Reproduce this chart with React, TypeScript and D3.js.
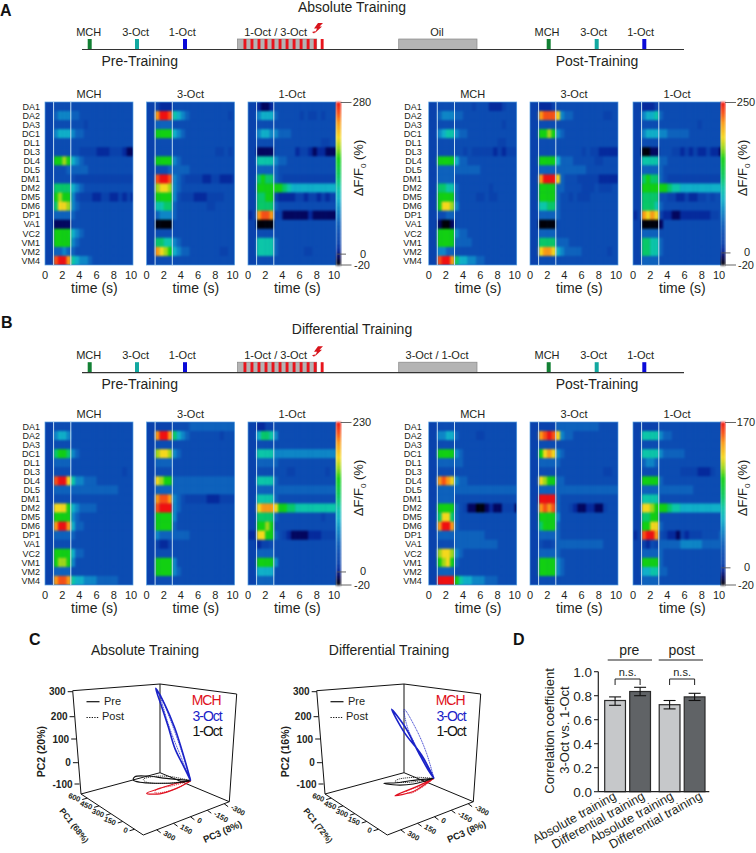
import React from 'react';
import * as d3 from 'd3';

const FONT = '"Liberation Sans", Arial, sans-serif';
const INK = '#231f20';

// response levels per glomerulus, one char per 0.5 s bin: before odor, odor, after odor
// char is an index into colorStops (0 = -20%, f = max)
const glomeruli = ['DA1', 'DA2', 'DA3', 'DC1', 'DL1', 'DL3', 'DL4', 'DL5', 'DM1', 'DM2', 'DM5', 'DM6', 'DP1', 'VA1', 'VC2', 'VM1', 'VM2', 'VM4'];

const absPreMch = [
  '33 4444 444444444444444', '33 5666 554444444444444', '33 4444 444344444444444', '33 6777 655444444444444',
  '33 4444 444444444444444', '33 4444 443333222333211', '33 aaba 765444444444444', '33 4445 555544444444444',
  '33 4444 433333333333333', '33 9999 765444444444444', '33 abaa 643332233223232', '33 9ccb 654444444444444',
  '33 5555 544444444444444', '33 1111 444444444444444', '33 aaaa 765444444444444', '33 aaaa 654444444444444',
  '33 5565 544444444444444', '33 effd 876654444444444',
];
const absPre3Oct = [
  '33 3222 444444444444444', '33 dffe 876544444444434', '33 5555 444444444444444', '33 aaaa 765444444444444',
  '33 4444 444444444444444', '33 4444 444444444433434', '33 aaaa 654444444444444', '33 4445 555544444444444',
  '33 effe 654333322332223', '33 bccb 654444444444444', '33 aaaa 643332223333444', '33 8899 544444443344444',
  '33 5666 544444444444444', '33 0000 444444444444444', '33 4444 444444444444444', '33 9988 654444444444444',
  '33 dcba 765544444443344', '33 4444 444444444444444',
];
const absPre1Oct = [
  '33 2112 444444444444444', '33 6777 544444343343444', '33 4444 444444444444444', '33 6776 655544444444444',
  '33 4444 444444444443344', '33 1111 444442332122111', '33 8888 655444444444444', '33 5555 544444444444444',
  '33 9a99 543333333333333', '33 aaaa aa9877777777777', '33 99aa 322223323323233', '33 9999 544444444444444',
  '23 deed 331111112111111', '33 0000 444444444444444', '33 4444 444444444444444', '33 8888 544444444444444',
  '33 8888 544444433444444', '33 4444 444444444444444',
];
const absPostMch = [
  '33 4444 444434442223444', '33 5666 554444444444444', '33 4444 444444444443444', '33 6788 655444444444444',
  '33 4444 444444444433444', '33 4444 443433333232333', '33 aaaa 755444444444444', '33 5555 555555444444444',
  '33 5555 444444444444444', '33 9988 544444443444444', '33 aaaa 544443343344444', '33 accb 644444444444444',
  '33 4455 444444444444444', '33 1001 444444444444444', '33 aaaa 655444444444444', '33 aaaa 555544444444444',
  '33 6655 444444444444444', '33 effd 977665544444444',
];
const absPost3Oct = [
  '33 2223 444444444444444', '33 deee c65544444443344', '33 4444 444444444444444', '33 aaba 654444444444444',
  '33 4444 444444444444444', '33 4444 444444343322222', '33 aaaa 755544444334444', '33 5555 555555544444444',
  '33 dfff c54443333322222', '33 aaaa 554444333433344', '33 aaaa 544343334444444', '33 8899 544444444444444',
  '33 5555 544444444444444', '33 0000 444444444444444', '33 5555 444444444444444', '33 9999 555444444444444',
  '33 cddc 765555444444344', '33 4444 444444444444444',
];
const absPost1Oct = [
  '33 2223 444444444444444', '33 6778 544444444444444', '33 4444 444444444344444', '33 6777 665555544444444',
  '33 4444 444444444444444', '33 0011 444332323223221', '33 8888 554444444444444', '33 5555 544444444444444',
  '33 9a99 543333333333333', '33 aaaa aa9887777777777', '33 9999 443322322334344', '33 9998 544444444444444',
  '23 dcdc 322112222222334', '33 0000 144444444444444', '33 5555 444444444444444', '33 9988 544444444444444',
  '33 9988 544444444444444', '33 5555 444444444444444',
];
const diffPreMch = [
  '33 4444 444444444444444', '33 6776 444444444444444', '33 4444 444444444444444', '33 9aa9 654444444444444',
  '33 5555 444444444444444', '33 4444 444444444444344', '33 effc 866555444444444', '33 5555 555555555554444',
  '33 4444 444444444444444', '33 ccca 765555444444444', '33 aaaa 654444444444444', '33 dffd 755444444444444',
  '33 5555 544444444444444', '33 4444 444444444444444', '33 aaaa 755444444444444', '33 abba 644444444444444',
  '33 5555 444444444444444', '33 deed 877666555554444',
];
const diffPre3Oct = [
  '33 3333 444455555555555', '33 dffd 976544444443444', '33 4444 444444444444444', '33 bccb 654444444444444',
  '33 5555 444444444444444', '33 4444 444444444444444', '33 cbaa 555555555555555', '33 5555 555555555555555',
  '33 deed 654333332223333', '33 efff 654444444444444', '33 aaaa 644444444444444', '33 aaaa 544444444444444',
  '33 6555 555544444444444', '33 3223 444444444444444', '33 4444 444444444444444', '33 aaaa 644444444444444',
  '33 aaaa 654444444444444', '33 4444 444444444444444',
];
const diffPre1Oct = [
  '33 2233 444444444444444', '33 7998 644444444444444', '33 4444 444444444444444', '33 8888 666666666666666',
  '33 5555 544444444444444', '33 4444 444334444444344', '33 8888 544444444444444', '33 5555 555555555555555',
  '33 8888 544444444444444', '33 cddd caa998888888888', '33 9999 544444444443444', '33 aaba 444444444444444',
  '22 ccaa 543211112223333', '33 2334 444444444444444', '33 5555 444444444444444', '33 aaaa 644444444444444',
  '33 7777 444444444444444', '33 5555 444444444444444',
];
const diffPostMch = [
  '33 4444 444444444444444', '33 6677 544443344444444', '33 4444 444444444444444', '33 aaaa 654444444444444',
  '33 5555 554444444444444', '33 4444 444444444444444', '33 dedc 655444444444444', '33 5555 555555555555555',
  '33 5555 444444444444444', '33 aaaa 543110012113331', '33 9cc9 544444444444444', '33 dffd 544444444444444',
  '33 5555 555555544444444', '33 4444 555555555544444', '33 bccb 654444444444444', '33 abca 544444444444444',
  '33 5555 444444444444444', '33 ffff a87766655544444',
];
const diffPost3Oct = [
  '33 3333 555555555544444', '33 defe c65544444444444', '33 4444 444444444444444', '33 acdc 654444444444444',
  '33 5555 544444444444444', '33 4444 444444444443344', '33 cbaa 554444444444444', '33 5555 555555555555555',
  '33 ffff 544444444444444', '33 dede 544321122113444', '33 aaaa 644444444444444', '33 9aaa 544444444444444',
  '33 5555 544444444444444', '33 4334 555555555554444', '33 5555 544444444444444', '33 aaaa 654444444444444',
  '33 aaaa 654444444444444', '33 4444 444444444444444',
];
const diffPost1Oct = [
  '33 3333 444444444444444', '33 8888 655444444444444', '33 4444 444444444444444', '33 8888 655555444444444',
  '33 5665 444444444444444', '33 4444 444443333222344', '33 aaaa 544444444444444', '33 5555 555555554444444',
  '33 8888 444444444444444', '33 ccba aa9887777777777', '33 99aa 444444444444444', '33 aacc 544444444444444',
  '23 effd 432213233344445', '33 3243 555556666655555', '33 5555 544444444444444', '33 aaaa 544444444444444',
  '33 7788 554444444444444', '33 5555 444444444444444',
];

const colorStops = [0, 0.05, 0.09, 0.13, 0.19, 0.26, 0.33, 0.4, 0.47, 0.53, 0.65, 0.72, 0.78, 0.87, 0.93, 1];
const colorRange = ['#000008', '#03065e', '#052a9c', '#0a42ac', '#0c4cb2', '#0e62bc', '#0e86c6', '#10b0c8', '#0cc6a8', '#08c868', '#12d012', '#a0d818', '#f4d81c', '#fa9a14', '#f85014', '#f01010'];
const heatColor = d3.scaleLinear<string>().domain(colorStops).range(colorRange);

const timeTicks = [0, 2, 4, 6, 8, 10];

// PCA trajectories: [PC3, PC2], PC1 held at pcHub
const pcHub = 135;
const absBluePre = [[-128, -17], [-81, 47], [-18, 132], [28, 226], [74, 314], [116, 394], [51, 316], [-18, 210], [-81, 86], [-128, -17]];
const absBluePost = [[-128, -17], [-65, 83], [5, 195], [51, 283], [86, 366], [40, 294], [-30, 175], [-100, 43], [-128, -17]];
const absBlackPre = [[-128, -17], [40, 28], [179, 67], [261, 82], [272, 72], [226, 53], [109, 24], [-30, -4], [-128, -17]];
const absBlackPost = [[-128, -17], [16, 30], [132, 55], [202, 59], [179, 43], [40, 9], [-128, -17]];
const absRedPre = [[-128, -17], [-30, -6], [86, -1], [179, 0], [86, -22], [-30, -26], [-100, -21], [-128, -17]];
const absRedPost = [[-128, -17], [-7, -10], [109, 0], [121, -10], [16, -25], [-77, -23], [-128, -17]];
const diffBluePre = [[-123, -7], [-37, 102], [79, 211], [172, 325], [79, 237], [-13, 120], [-90, 26], [-123, -7]];
const diffBluePost = [[-123, -7], [-72, 101], [-2, 207], [84, 306], [63, 234], [-25, 111], [-95, 31], [-123, -7]];
const diffBlackPre = [[-123, -7], [45, 20], [137, 32], [226, 49], [137, 23], [21, 2], [-123, -7]];
const diffBlackPost = [[-123, -7], [-2, 23], [126, 43], [149, 39], [45, 14], [-123, -7]];
const diffRedPre = [[-123, -7], [-2, -13], [149, -16], [21, -27], [-72, -15], [-123, -7]];
const diffRedPost = [[-123, -7], [-25, -16], [68, -17], [45, -29], [-48, -23], [-123, -7]];

const pc1Ticks = [0, 150, 300, 450, 600];
const pc2Ticks = [-100, 0, 100, 200, 300];
const pc3Ticks = [300, 150, 0, -150, -300];

// panel D
const barLabels = ['Absolute training', 'Differential training', 'Absolute training', 'Differential training'];
const barValues = [0.76, 0.835, 0.725, 0.79];
const barLow = [0.72, 0.8, 0.69, 0.76];
const barHigh = [0.79, 0.87, 0.76, 0.82];
const barFills = ['#c6c8ca', '#606366', '#c6c8ca', '#606366'];
const barTicks = [0, 0.2, 0.4, 0.6, 0.8, 1];

const hx = d3.scaleLinear().domain([0, 10]).range([0, 86]);
const PW = 88;
const PH = 163;

function Heat({x, y, rows, title, id}: any) {
  const ry = d3.scaleBand<number>().domain(d3.range(18)).range([0, PH]);
  return (
    <g transform={`translate(${x},${y})`}>
      <text x={44} y={-4.5} textAnchor="middle" fontSize={11} fill={INK}>{title}</text>
      <clipPath id={id}><rect width={PW} height={PH} /></clipPath>
      <g clipPath={`url(#${id})`}>
        <rect width={PW} height={PH} fill={heatColor(colorStops[4])} />
        <g filter="url(#soft)">
          {rows.map((r: string, i: number) => {
            const cells = r.replace(/ /g, '').split('');
            return cells.map((c, j) => (
              <rect key={j + '-' + i} x={hx(j * 0.5)} y={ry(i)} width={hx(0.5) + 0.3} height={ry.bandwidth() + 0.3}
                fill={heatColor(colorStops[parseInt(c, 16)])} />
            ));
          })}
        </g>
      </g>
      <rect width={PW} height={PH} fill="none" stroke="#5aa0e0" strokeWidth={0.7} />
      {[1, 3].map(t => <line key={t} x1={hx(t)} x2={hx(t)} y1={0} y2={PH} stroke="#c4def2" strokeWidth={1} />)}
      {timeTicks.map(t => <text key={t} x={hx(t)} y={PH + 14} textAnchor="middle" fontSize={11} fill={INK}>{t}</text>)}
      <text x={hx(5.75)} y={PH + 28} textAnchor="middle" fontSize={14} fill={INK}>time (s)</text>
    </g>
  );
}

function ColorBar({x, y, max, labelX}: any) {
  const f = d3.scaleLinear().domain([0, 1]).range([PH, 0]);
  const steps = d3.range(0, 1, 1 / 120);
  return (
    <g transform={`translate(${x},${y})`}>
      <g filter="url(#soft)">
        {steps.map(s => <rect key={s} x={0} y={f(s + 1 / 120)} width={5} height={PH / 120 + 0.4} fill={heatColor(s)} />)}
      </g>
      <line x1={4.5} x2={15.5} y1={0.5} y2={0.5} stroke="#555" strokeWidth={0.9} />
      <line x1={4.5} x2={15.5} y1={PH} y2={PH} stroke="#555" strokeWidth={0.9} />
      <line x1={1} x2={10} y1={f(20 / (max + 20))} y2={f(20 / (max + 20))} stroke="#555" strokeWidth={0.9} />
      <text x={labelX} y={3.5} textAnchor="middle" fontSize={11} fill={INK}>{max}</text>
      <text x={labelX + 1} y={f(20 / (max + 20)) + 3.5} textAnchor="middle" fontSize={11} fill={INK}>0</text>
      <text x={labelX} y={PH + 3.5} textAnchor="middle" fontSize={11} fill={INK}>-20</text>
      <text transform={`translate(${labelX + 1},${PH * 0.405}) rotate(-90)`} textAnchor="middle" fontSize={13} fill={INK}>
        ΔF/F<tspan fontSize={8} dy={3}>0</tspan><tspan dy={-3}> (%)</tspan>
      </text>
    </g>
  );
}

const pulseX = d3.scaleLinear().domain([0, 11]).range([243.5, 320.7]);

function Timeline({y, titleY, title, middle, training}: any) {
  const odors = [
    ['MCH', 87.7, '#128034', 88.7], ['3-Oct', 135, '#12a8a0', 135.7], ['1-Oct', 183, '#0a0ad8', 182.3],
    ['MCH', 546.7, '#128034', 547], ['3-Oct', 594.7, '#12a8a0', 593.7], ['1-Oct', 642.3, '#0a0ad8', 640.7],
  ] as const;
  return (
    <g fontSize={11} fill={INK}>
      <text x={352} y={titleY} textAnchor="middle" fontSize={14}>{title}</text>
      {odors.map(([n, x, c, tx], i) => (
        <g key={i}>
          <text x={tx} y={y - 13.5} textAnchor="middle">{n}</text>
          <rect x={x} y={y - 10.5} width={4} height={10.5} fill={c} />
        </g>
      ))}
      <rect x={237.5} y={y - 10.5} width={79.2} height={10.5} fill="#b4b4b4" stroke="#888" strokeWidth={0.7} />
      {d3.range(12).map(i => <rect key={i} x={pulseX(i)} y={y - 10.5} width={2.9} height={10.5} fill="#e8141c" />)}
      <text x={275.7} y={y - 13.5} textAnchor="middle">{training}</text>
      <path transform={`translate(312,${y - 26.5})`} d="M6 0 L11 0 L7.5 3.5 L10 3.5 L3 10 L5 5.5 L2 5.5 Z M0 9 L4 8 L2 10.5 Z" fill="#d8141c" />
      <rect x={398.7} y={y - 10.5} width={78.3} height={10.5} fill="#b4b4b4" stroke="#888" strokeWidth={0.7} />
      <text x={437} y={y - 13.5} textAnchor="middle">{middle}</text>
      <line x1={82} x2={684} y1={y} y2={y} stroke="#333" strokeWidth={1.2} />
      <text x={139.7} y={y + 16.5} textAnchor="middle" fontSize={14}>Pre-Training</text>
      <text x={597} y={y + 16.5} textAnchor="middle" fontSize={14}>Post-Training</text>
    </g>
  );
}

function HeatBlock({top, tl, tr, maxL, maxR}: any) {
  const leftX = [45, 146.5, 248];
  const rightX = [428.7, 530, 633];
  const titles = ['MCH', '3-Oct', '1-Oct'];
  const rowY = d3.scaleBand<number>().domain(d3.range(18)).range([0, PH]);
  return (
    <g>
      {leftX.map((x, i) => <Heat key={x} id={`h${top}l${i}`} x={x} y={top} rows={tl[i]} title={titles[i]} />)}
      {rightX.map((x, i) => <Heat key={x} id={`h${top}r${i}`} x={x} y={top} rows={tr[i]} title={titles[i]} />)}
      {[40, 421.7].map(x => glomeruli.map((g, i) => (
        <text key={x + g} x={x} y={top + rowY(i)! + rowY.bandwidth() / 2 + 3.2} textAnchor="end" fontSize={9} fill={INK}>{g}</text>
      )))}
      <ColorBar x={336} y={top} max={maxL} labelX={26} />
      <ColorBar x={720.5} y={top} max={maxR} labelX={25.5} />
    </g>
  );
}

// 3D box, flattened by hand from the figure's perspective
const corners = {
  lt: [72.7, 690.7], bt: [160, 684], rt: [236.7, 694],
  lb: [81, 794], bb: [160, 772.7], rb: [229.3, 801.7], f: [143.3, 835],
};
const pc1X = d3.scaleLinear().domain([0, 600]).range([0, -62.3]);
const pc1Y = d3.scaleLinear().domain([0, 600]).range([0, -41]);
const pc3X = d3.scaleLinear().domain([300, -300]).range([0, 86]);
const pc3Y = d3.scaleLinear().domain([300, -300]).range([0, -33.3]);
const pc2Y = d3.scaleLinear().domain([-100, 300]).range([0, -103]);
const project = (p: number[]) => [
  corners.f[0] + pc1X(pcHub) + pc3X(p[0]),
  corners.f[1] + pc1Y(pcHub) + pc3Y(p[0]) + pc2Y(p[1]),
] as [number, number];
const trace = d3.line<number[]>().x(d => project(d)[0]).y(d => project(d)[1]).curve(d3.curveCatmullRom.alpha(0.5));

const tickY = d3.scaleLinear().domain(pc2Ticks).range([784, 762.7, 739, 716.7, 691.7]);
const edgeLeftX = d3.scaleLinear().domain([784, 691.7]).range([79.5, 72.7]);
const pc1T = d3.scaleLinear().domain([0, 600]).range([0.14, 0.9]);
const pc3T = d3.scaleLinear().domain([300, -300]).range([0.156, 0.94]);
const mix = (a: number[], b: number[], t: number) => [a[0] + (b[0] - a[0]) * t, a[1] + (b[1] - a[1]) * t];

function Pca({dx, title, pc1, pc2, pc3, curves}: any) {
  const c = corners;
  const seg = (a: number[], b: number[], k: string) => <line key={k} x1={a[0]} y1={a[1]} x2={b[0]} y2={b[1]} stroke="#111" strokeWidth={1} />;
  return (
    <g transform={`translate(${dx},0)`} fontFamily={FONT} fill={INK}>
      <text x={145} y={655} textAnchor="middle" fontSize={14}>{title}</text>
      {seg(c.lt, c.bt, 'a')}{seg(c.bt, c.rt, 'b')}{seg(c.lt, c.lb, 'c')}{seg(c.bt, c.bb, 'd')}{seg(c.rt, c.rb, 'e')}
      {seg(c.lb, c.bb, 'g')}{seg(c.bb, c.rb, 'h')}{seg(c.lb, c.f, 'i')}{seg(c.f, c.rb, 'j')}
      {pc2Ticks.map(v => {
        const yy = tickY(v);
        const xx = edgeLeftX(yy);
        return (
          <g key={v}>
            <line x1={xx - 5} x2={xx} y1={yy} y2={yy} stroke="#111" strokeWidth={1} />
            <text x={xx - 7} y={yy + 3.5} textAnchor="end" fontSize={10} fontWeight="bold">{v}</text>
          </g>
        );
      })}
      <text transform="translate(45,751.7) rotate(-90)" textAnchor="middle" fontSize={10.5} fontWeight="bold">{pc2}</text>
      {pc1Ticks.map(v => {
        const p = mix(c.f, c.lb, pc1T(v));
        return (
          <g key={v}>
            <line x1={p[0]} y1={p[1]} x2={p[0] - 5} y2={p[1] + 1.5} stroke="#111" strokeWidth={1} />
            <text transform={`translate(${p[0] - 8},${p[1] + 4}) rotate(22)`} textAnchor="end" fontSize={7.5} fontWeight="bold">{v}</text>
          </g>
        );
      })}
      <text transform="translate(59,811) rotate(52)" fontSize={8.5} fontWeight="bold">{pc1}</text>
      {pc3Ticks.map(v => {
        const p = mix(c.f, c.rb, pc3T(v));
        return (
          <g key={v}>
            <line x1={p[0]} y1={p[1]} x2={p[0] + 4} y2={p[1] + 3} stroke="#111" strokeWidth={1} />
            <text transform={`translate(${p[0] + 6},${p[1] + 5}) rotate(30)`} fontSize={7.5} fontWeight="bold">{v}</text>
          </g>
        );
      })}
      <text transform="translate(205,843) rotate(-24)" fontSize={9.5} fontWeight="bold">{pc3}</text>
      {curves.map((k: any, i: number) => (
        <path key={i} d={trace(k.pts) || ''} fill="none" stroke={k.color} strokeWidth={k.w} strokeDasharray={k.dash} strokeLinejoin="round" />
      ))}
      <line x1={86.5} x2={99.5} y1={701.7} y2={701.7} stroke="#111" strokeWidth={1.2} />
      <text x={104} y={705} fontSize={11}>Pre</text>
      <line x1={86.5} x2={99.5} y1={717.5} y2={717.5} stroke="#111" strokeWidth={1} strokeDasharray="1.3 1.3" />
      <text x={102} y={720} fontSize={11}>Post</text>
      <g fontSize={14} letterSpacing={-1}>
        <text x={191.7} y={705} fill="#e01020">MCH</text>
        <text x={192.5} y={720.7} fill="#1a22c8">3-Oct</text>
        <text x={192.5} y={736} fill="#111">1-Oct</text>
      </g>
    </g>
  );
}

function Bars() {
  const y = d3.scaleLinear().domain([0, 1]).range([791.7, 671.7]);
  const group = d3.scaleBand<number>().domain([0, 1]).range([604.7, 705]).paddingInner(0.16);
  const inner = d3.scaleBand<number>().domain([0, 1]).range([0, group.bandwidth()]).paddingInner(0.17);
  const barX = (i: number) => group(Math.floor(i / 2))! + inner(i % 2)!;
  const labelEnd = d3.scaleLinear().domain([0, 3]).range([617, 703]);
  const cap = 6;
  const mid = (i: number) => barX(i) + inner.bandwidth() / 2;
  return (
    <g fontFamily={FONT} fill={INK}>
      {barValues.map((v, i) => (
        <g key={i}>
          <rect x={barX(i)} y={y(v)} width={inner.bandwidth()} height={y(0) - y(v)} fill={barFills[i]} stroke="#2a2a2a" strokeWidth={1.2} />
          <line x1={mid(i)} x2={mid(i)} y1={y(barLow[i])} y2={y(barHigh[i])} stroke="#111" strokeWidth={1.1} />
          <line x1={mid(i) - cap} x2={mid(i) + cap} y1={y(barHigh[i])} y2={y(barHigh[i])} stroke="#111" strokeWidth={1.1} />
          <line x1={mid(i) - cap} x2={mid(i) + cap} y1={y(barLow[i])} y2={y(barLow[i])} stroke="#111" strokeWidth={1.1} />
          <text transform={`translate(${labelEnd(i)},${y(0) + 7}) rotate(-29)`} textAnchor="end" fontSize={12.5}>{barLabels[i]}</text>
        </g>
      ))}
      <line x1={598.3} x2={598.3} y1={y(1)} y2={y(0)} stroke="#222" strokeWidth={1.2} />
      <line x1={598.3} x2={709.3} y1={y(0)} y2={y(0)} stroke="#222" strokeWidth={1.2} />
      {barTicks.map(t => (
        <g key={t}>
          <line x1={594} x2={598.3} y1={y(t)} y2={y(t)} stroke="#222" strokeWidth={1.1} />
          <text x={592} y={y(t) + 5} textAnchor="end" fontSize={13.5}>{t.toFixed(1)}</text>
        </g>
      ))}
      <text transform="translate(553.5,731) rotate(-90)" textAnchor="middle" fontSize={13}>Correlation coefficient</text>
      <text transform="translate(568.5,730) rotate(-90)" textAnchor="middle" fontSize={13}>3-Oct vs. 1-Oct</text>
      {[0, 2].map(i => (
        <g key={i}>
          <path d={`M${mid(i)} 685 V679 H${mid(i + 1)} V685`} fill="none" stroke="#222" strokeWidth={1} />
          <text x={(mid(i) + mid(i + 1)) / 2} y={675.7} textAnchor="middle" fontSize={11}>n.s.</text>
        </g>
      ))}
      <line x1={607.7} x2={652} y1={660} y2={660} stroke="#222" strokeWidth={1.1} />
      <line x1={658.7} x2={703} y1={660} y2={660} stroke="#222" strokeWidth={1.1} />
      <text x={629.3} y={655} textAnchor="middle" fontSize={14}>pre</text>
      <text x={681.7} y={655} textAnchor="middle" fontSize={14}>post</text>
    </g>
  );
}

const traces = (bp: number[][], bq: number[][], kp: number[][], kq: number[][], rp: number[][], rq: number[][]) => [
  {pts: rp, color: '#e01020', w: 1.2},
  {pts: rq, color: '#e01020', w: 0.8, dash: '1.2 0.8'},
  {pts: kp, color: '#111', w: 1.1},
  {pts: kq, color: '#111', w: 0.8, dash: '1.2 0.8'},
  {pts: bp, color: '#1a22c8', w: 1.6},
  {pts: bq, color: '#1a22c8', w: 0.8, dash: '1.2 0.6'},
];

export default function App() {
  return (
    <svg width={756} height={853} style={{position: 'absolute', left: 0, top: 0, background: '#fff'}} fontFamily={FONT}>
      <defs>
        <filter id="soft" x="-5%" y="-5%" width="110%" height="110%" colorInterpolationFilters="sRGB"><feGaussianBlur stdDeviation={0.8} /></filter>
      </defs>
      <g fontSize={16} fontWeight="bold" fill="#111">
        <text x={0} y={16}>A</text>
        <text x={1} y={328}>B</text>
        <text x={29} y={645}>C</text>
        <text x={513} y={645}>D</text>
      </g>
      <Timeline y={49.5} titleY={12} title="Absolute Training" middle="Oil" training="1-Oct / 3-Oct" />
      <Timeline y={372.7} titleY={333.7} title="Differential Training" middle="3-Oct / 1-Oct" training="1-Oct / 3-Oct" />
      <HeatBlock top={102} maxL={280} maxR={250}
        tl={[absPreMch, absPre3Oct, absPre1Oct]} tr={[absPostMch, absPost3Oct, absPost1Oct]} />
      <HeatBlock top={422} maxL={230} maxR={170}
        tl={[diffPreMch, diffPre3Oct, diffPre1Oct]} tr={[diffPostMch, diffPost3Oct, diffPost1Oct]} />
      <Pca dx={0} title="Absolute Training" pc1="PC1 (68%)" pc2="PC2 (20%)" pc3="PC3 (8%)"
        curves={traces(absBluePre, absBluePost, absBlackPre, absBlackPost, absRedPre, absRedPost)} />
      <Pca dx={244} title="Differential Training" pc1="PC1 (72%)" pc2="PC2 (16%)" pc3="PC3 (8%)"
        curves={traces(diffBluePre, diffBluePost, diffBlackPre, diffBlackPost, diffRedPre, diffRedPost)} />
      <Bars />
    </svg>
  );
}
